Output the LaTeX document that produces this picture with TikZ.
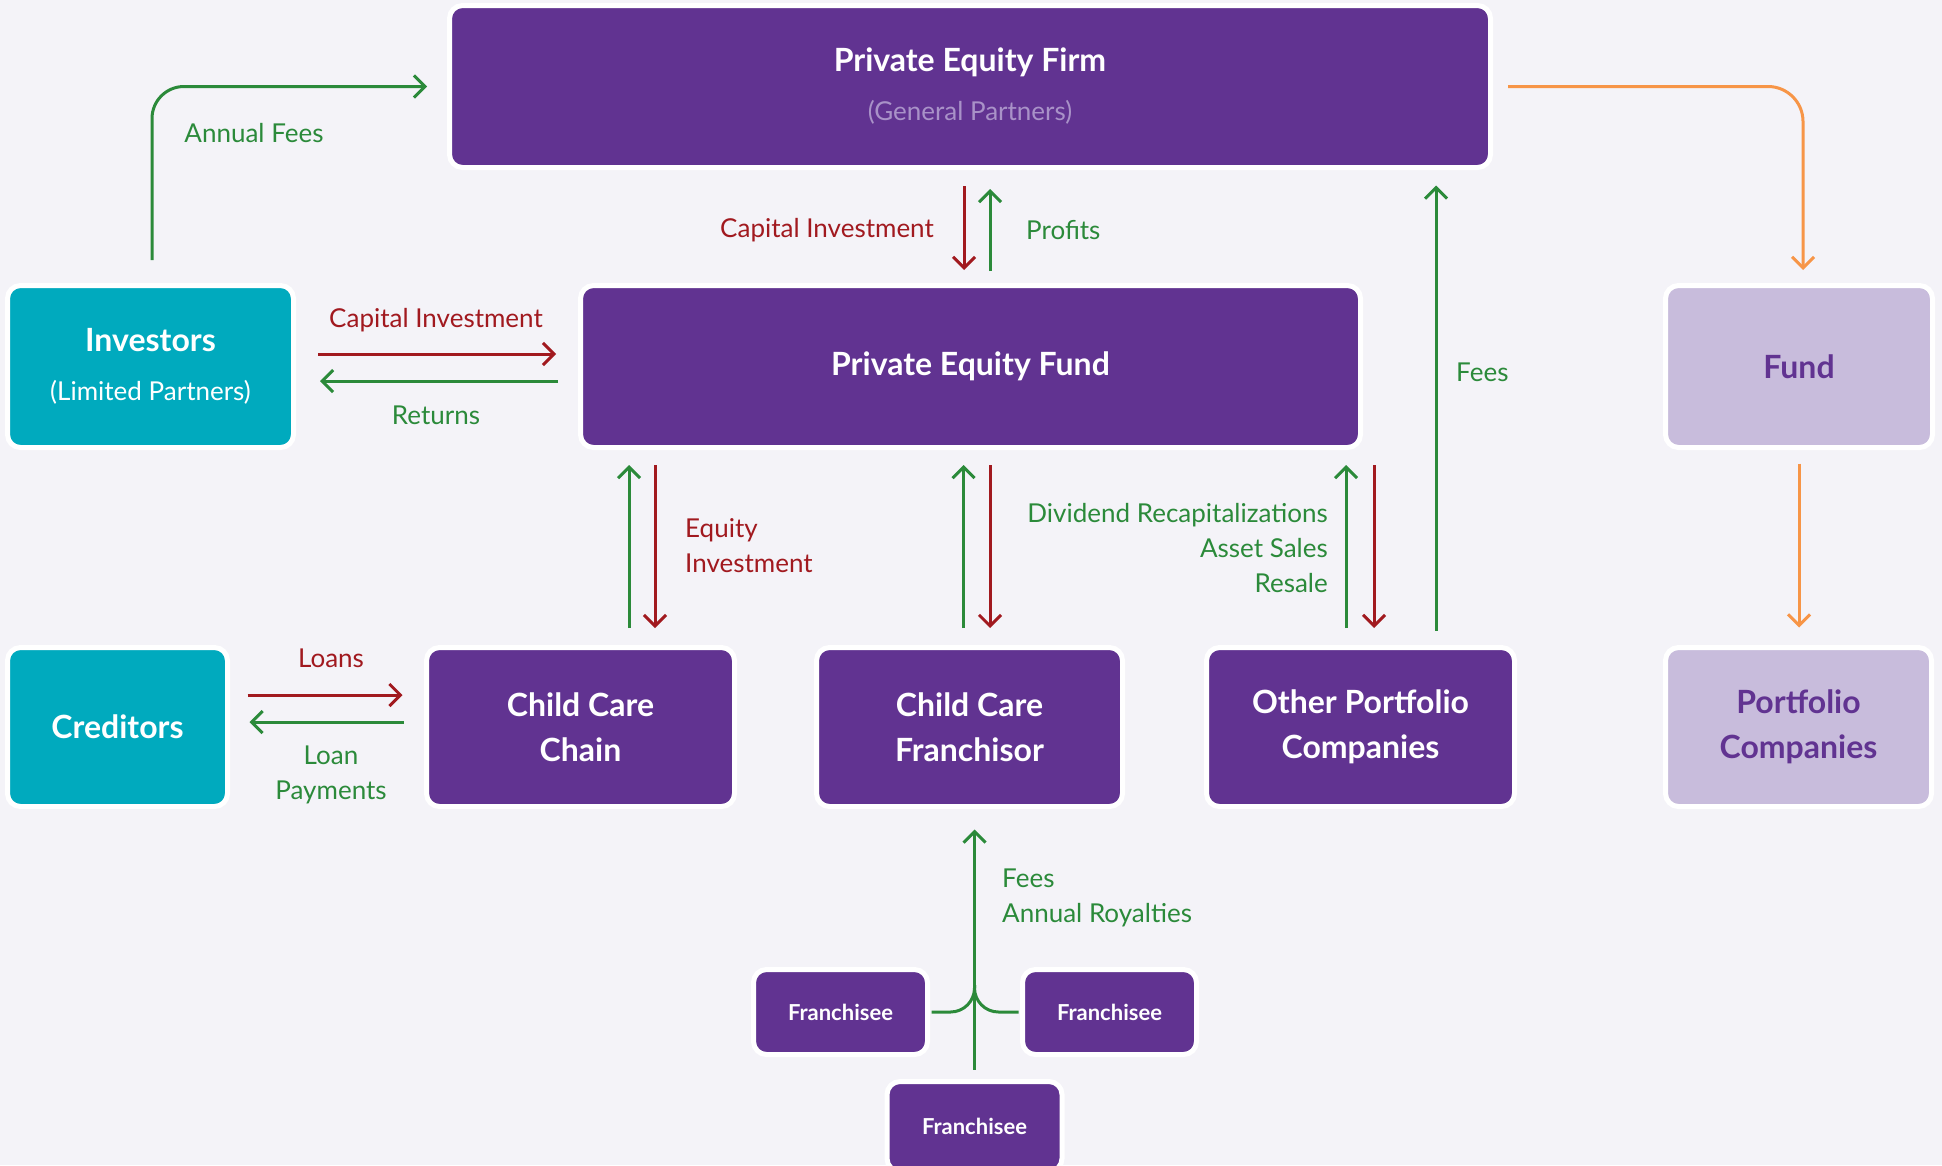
\documentclass[tikz,border=0pt]{standalone}
\usepackage{fontspec}
\setmainfont{Lato}
\usetikzlibrary{arrows.meta}
\definecolor{bgc}{HTML}{F4F3F8}
\definecolor{pep}{HTML}{613391}
\definecolor{tealc}{HTML}{00AABE}
\definecolor{lav}{HTML}{C8BCDC}
\definecolor{grc}{HTML}{2B8A3A}
\definecolor{rdc}{HTML}{A1191F}
\definecolor{orc}{HTML}{F79547}
\definecolor{subp}{HTML}{A992C8}
\definecolor{shd}{HTML}{E6E4EC}
\newcommand\bxfont{\fontsize{32}{45}\selectfont\bfseries}
\newcommand\lbfont{\fontsize{26}{35}\selectfont}
\newcommand\frfont{\fontsize{22}{26}\selectfont\bfseries}
\begin{document}
\begin{tikzpicture}[x=1pt,y=-1pt,
  box/.style={draw=white, line width=5pt, rounded corners=13pt, align=center, text=white, inner sep=0pt, font=\bxfont},
  dark/.style={box, fill=pep},
  tealbox/.style={box, fill=tealc},
  light/.style={box, fill=lav, text=pep},
  frbox/.style={dark, font=\frfont, minimum width=174pt, minimum height=85pt},
  arr/.style={line width=3pt, -{Straight Barb[length=11pt,width=22pt]}},
  gar/.style={arr, draw=grc},
  rar/.style={arr, draw=rdc},
  oar/.style={arr, draw=orc},
  glab/.style={text=grc, font=\lbfont, inner sep=0pt},
  rlab/.style={text=rdc, font=\lbfont, inner sep=0pt}]
\useasboundingbox (0,0) rectangle (1942,1165);
\fill[bgc] (0,0) rectangle (1942,1165);
\clip (0,0) rectangle (1942,1165);

% boxes
\node[dark, minimum width=1041pt, minimum height=162pt] (firm) at (970,86.5)
  {Private Equity Firm\\[4pt]{\lbfont\mdseries\color{subp}(General Partners)}};
\node[dark, minimum width=780pt, minimum height=162pt] (fund) at (970.5,366.5) {Private Equity Fund};
\node[tealbox, minimum width=286pt, minimum height=162pt] (inv) at (150.5,366.5)
  {Investors\\[4pt]{\lbfont\mdseries (Limited Partners)}};
\node[light, minimum width=267pt, minimum height=162pt] (fundr) at (1799,366.5) {Fund};
\node[tealbox, minimum width=220pt, minimum height=159pt] (cred) at (117.5,727) {Creditors};
\node[dark, minimum width=308pt, minimum height=159pt] (chain) at (580.5,727) {Child Care\\Chain};
\node[dark, minimum width=306pt, minimum height=159pt] (fran) at (969.5,727) {Child Care\\Franchisor};
\node[dark, minimum width=308pt, minimum height=159pt] (other) at (1360.5,727) {Other Portfolio\\Companies};
\node[light, minimum width=266pt, minimum height=159pt] (portf) at (1798.5,727) {Portfolio\\Companies};
\node[frbox] (frl) at (840.5,1012) {Franchisee};
\node[frbox] (frr) at (1109.5,1012) {Franchisee};
\node[frbox, minimum width=175pt, minimum height=90pt] (frb) at (974.5,1126.5) {Franchisee};

% helper coordinates
\coordinate (xaf) at (152,0);
\coordinate (xo1) at (1803,0);
\coordinate (xci) at (964,0);
\coordinate (xpr) at (990,0);
\coordinate (yci) at (0,354);
\coordinate (yre) at (0,381);
\coordinate (g1) at (629,0);
\coordinate (r1) at (655,0);
\coordinate (g2) at (963.5,0);
\coordinate (r2) at (990,0);
\coordinate (g3) at (1346,0);
\coordinate (r3) at (1374,0);
\coordinate (xfe) at (1436,0);
\coordinate (yl) at (0,695);
\coordinate (ylp) at (0,722);
\coordinate (jn) at (974.5,985);

% connectors
\draw[gar, rounded corners=32pt, shorten <=23pt, shorten >=20pt] (inv.north -| xaf) |- (firm.west);
\draw[oar, rounded corners=35pt, shorten <=15pt, shorten >=13pt] (firm.east) -| (fundr.north -| xo1);
\draw[rar, shorten <=16pt, shorten >=13pt] (firm.south -| xci) -- (fund.north -| xci);
\draw[gar, shorten <=12pt, shorten >=19pt] (fund.north -| xpr) -- (firm.south -| xpr);
\draw[rar, shorten <=22pt, shorten >=22pt] (inv.east |- yci) -- (fund.west |- yci);
\draw[gar, shorten <=20pt, shorten >=24pt] (fund.west |- yre) -- (inv.east |- yre);
\draw[gar, shorten <=17pt, shorten >=15pt] (chain.north -| g1) -- (fund.south -| g1);
\draw[rar, shorten <=15pt, shorten >=17pt] (fund.south -| r1) -- (chain.north -| r1);
\draw[gar, shorten <=17pt, shorten >=15pt] (fran.north -| g2) -- (fund.south -| g2);
\draw[rar, shorten <=15pt, shorten >=17pt] (fund.south -| r2) -- (fran.north -| r2);
\draw[gar, shorten <=17pt, shorten >=15pt] (other.north -| g3) -- (fund.south -| g3);
\draw[rar, shorten <=15pt, shorten >=17pt] (fund.south -| r3) -- (other.north -| r3);
\draw[gar, shorten <=14.5pt, shorten >=15.5pt] (other.north -| xfe) -- (firm.south -| xfe);
\draw[oar, shorten <=13.5pt, shorten >=17.5pt] (fundr.south) -- (portf.north -| fundr.south);
\draw[rar, shorten <=17.5pt, shorten >=21.5pt] (cred.east |- yl) -- (chain.west |- yl);
\draw[gar, shorten <=20.5pt, shorten >=19.5pt] (chain.west |- ylp) -- (cred.east |- ylp);
\draw[gar, shorten <=9.5pt, shorten >=20.5pt] (frb.north) -- (frb.north |- fran.south);
\draw[grc, line width=3pt, rounded corners=24pt, shorten <=1.5pt] (frl.east) -| (jn);
\draw[grc, line width=3pt, rounded corners=24pt, shorten <=1.5pt] (frr.west) -| (jn);

% labels
\node[glab] (lAF) at (254,133) {Annual Fees};
\node[rlab, anchor=east] (lCI1) at (934,230) {Capital Investment};
\node[glab, anchor=west] (lPR) at (1026,230) {Profits};
\node[rlab] (lCI2) at (436,320) {Capital Investment};
\node[glab] (lRE) at (436,415) {Returns};
\node[rlab, anchor=west, align=left] (lEQ) at (685,545.5) {Equity\\Investment};
\node[glab, anchor=east, align=right] (lDR) at (1328,548) {Dividend Recapitalizations\\Asset Sales\\Resale};
\node[glab, anchor=west] (lFE) at (1456,372) {Fees};
\node[rlab] (lLO) at (331,658) {Loans};
\node[glab, align=center] (lLP) at (331,774.5) {Loan\\Payments};
\node[glab, anchor=west, align=left] (lFR) at (1002,898) {Fees\\Annual Royalties};
\end{tikzpicture}
\end{document}
